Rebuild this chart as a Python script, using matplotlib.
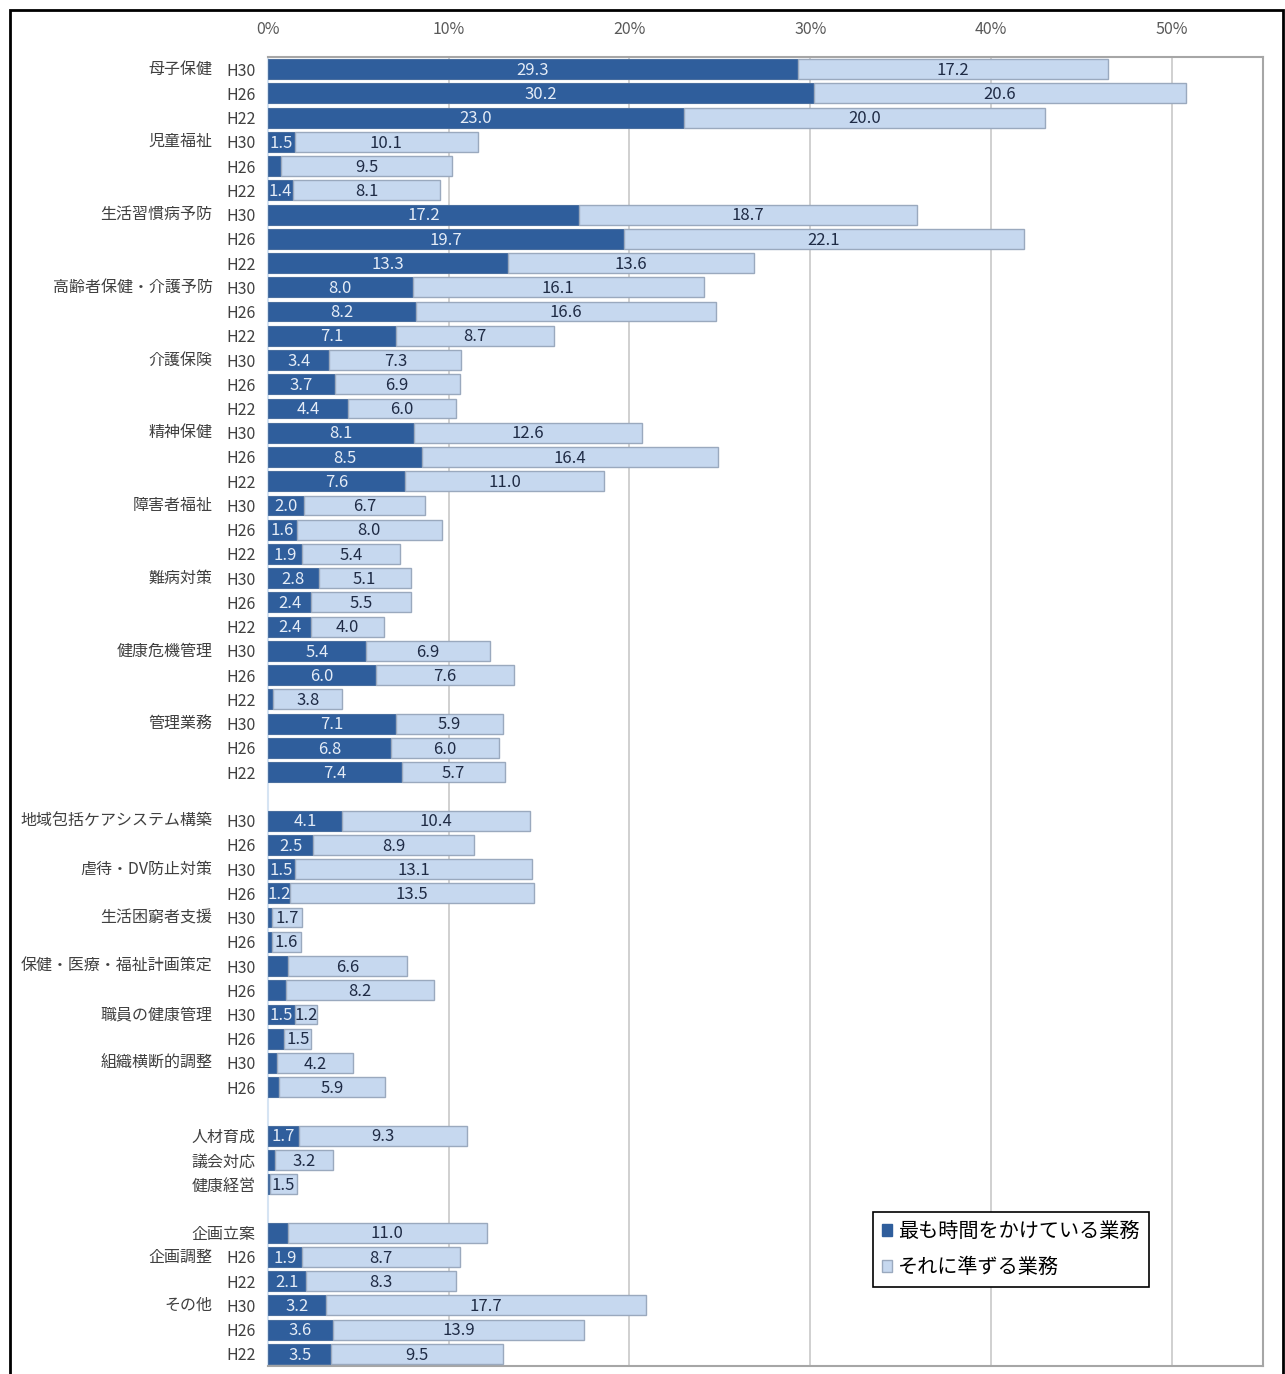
import numpy as np
import matplotlib
matplotlib.use('Agg')
import matplotlib.pyplot as plt
from matplotlib.patches import Rectangle

plt.rcParams['font.family'] = ['Noto Sans CJK JP', 'DejaVu Sans']

# ---------- データ ----------
# 行ごとのラベル（年度 / 年度なしの項目名）、空文字は空白行
tick_labels = [
    'H30', 'H26', 'H22',
    'H30', 'H26', 'H22',
    'H30', 'H26', 'H22',
    'H30', 'H26', 'H22',
    'H30', 'H26', 'H22',
    'H30', 'H26', 'H22',
    'H30', 'H26', 'H22',
    'H30', 'H26', 'H22',
    'H30', 'H26', 'H22',
    'H30', 'H26', 'H22',
    '',
    'H30', 'H26',
    'H30', 'H26',
    'H30', 'H26',
    'H30', 'H26',
    'H30', 'H26',
    'H30', 'H26',
    '',
    '人材育成', '議会対応', '健康経営',
    '',
    '企画立案', 'H26', 'H22',
    'H30', 'H26', 'H22',
]

cat_labels = [
    '母子保健', '', '',
    '児童福祉', '', '',
    '生活習慣病予防', '', '',
    '高齢者保健・介護予防', '', '',
    '介護保険', '', '',
    '精神保健', '', '',
    '障害者福祉', '', '',
    '難病対策', '', '',
    '健康危機管理', '', '',
    '管理業務', '', '',
    '',
    '地域包括ケアシステム構築', '',
    '虐待・DV防止対策', '',
    '生活困窮者支援', '',
    '保健・医療・福祉計画策定', '',
    '職員の健康管理', '',
    '組織横断的調整', '',
    '',
    '', '', '',
    '',
    '', '企画調整', '',
    'その他', '', '',
]

nan = np.nan
# 最も時間をかけている業務 (%)
most = [
    29.3, 30.2, 23.0,
    1.5, 0.7, 1.4,
    17.2, 19.7, 13.3,
    8.0, 8.2, 7.1,
    3.4, 3.7, 4.4,
    8.1, 8.5, 7.6,
    2.0, 1.6, 1.9,
    2.8, 2.4, 2.4,
    5.4, 6.0, 0.3,
    7.1, 6.8, 7.4,
    nan,
    4.1, 2.5,
    1.5, 1.2,
    0.2, 0.2,
    1.1, 1.0,
    1.5, 0.9,
    0.5, 0.6,
    nan,
    1.7, 0.4, 0.1,
    nan,
    1.1, 1.9, 2.1,
    3.2, 3.6, 3.5,
]

# それに準ずる業務 (%)
second = [
    17.2, 20.6, 20.0,
    10.1, 9.5, 8.1,
    18.7, 22.1, 13.6,
    16.1, 16.6, 8.7,
    7.3, 6.9, 6.0,
    12.6, 16.4, 11.0,
    6.7, 8.0, 5.4,
    5.1, 5.5, 4.0,
    6.9, 7.6, 3.8,
    5.9, 6.0, 5.7,
    nan,
    10.4, 8.9,
    13.1, 13.5,
    1.7, 1.6,
    6.6, 8.2,
    1.2, 1.5,
    4.2, 5.9,
    nan,
    9.3, 3.2, 1.5,
    nan,
    11.0, 8.7, 8.3,
    17.7, 13.9, 9.5,
]

legend_labels = ['最も時間をかけている業務', 'それに準ずる業務']
x_ticks = [0, 10, 20, 30, 40, 50]

# ---------- 描画 ----------
col_dark = '#2f5e9c'
col_light = '#c6d8ef'
col_edge = '#9aa9be'

W, H = 1285, 1374
fig = plt.figure(figsize=(W / 100, H / 100), dpi=100)
ax = fig.add_axes([268 / W, 1 - 1366 / H, (1263 - 268) / W, (1366 - 57) / H])

n = len(tick_labels)
y = np.arange(n)
most_a = np.array(most)
second_a = np.array(second)

ax.barh(y, most_a, height=0.82, color=col_dark, edgecolor='#4a6f9f', linewidth=0.8, zorder=3)
ax.barh(y, second_a, left=most_a, height=0.82, color=col_light, edgecolor=col_edge,
        linewidth=1.0, zorder=3)

for i in range(n):
    if np.isnan(most_a[i]):
        continue
    if most_a[i] >= 1.2:
        ax.text(most_a[i] / 2, y[i] + 0.05, f'{most_a[i]:.1f}', ha='center', va='center',
                fontsize=12, color='#e4ecf7', zorder=4)
    ax.text(most_a[i] + second_a[i] / 2, y[i] + 0.05, f'{second_a[i]:.1f}', ha='center',
            va='center', fontsize=12, color='#1f2b45', zorder=4)

ax.set_ylim(n - 0.5, -0.5)
ax.set_xlim(0, 55.05)

ax.xaxis.tick_top()
ax.set_xticks(x_ticks)
ax.set_xticklabels([f'{v}%' for v in x_ticks], fontsize=11.5, color='#595959')
ax.tick_params(axis='x', length=0, pad=14)
ax.grid(axis='x', color='#c8c8c8', linewidth=1.2, zorder=0)

ax.set_yticks(y)
ax.set_yticklabels(tick_labels, fontsize=11.5, color='#404040')
ax.tick_params(axis='y', length=0, pad=9)

for i, name in enumerate(cat_labels):
    if name:
        ax.annotate(name, xy=(0, y[i]), xycoords=('axes fraction', 'data'),
                    xytext=(-40, 0), textcoords='offset points', ha='right', va='center',
                    fontsize=11.5, color='#404040', annotation_clip=False)

for s in ['top', 'right', 'bottom']:
    ax.spines[s].set_color('#a6a6a6')
    ax.spines[s].set_linewidth(1.5)
ax.spines['left'].set_color('#d6e4f3')
ax.spines['left'].set_linewidth(1.5)

handles = [Rectangle((0, 0), 1, 1, facecolor=col_dark, edgecolor=col_dark),
           Rectangle((0, 0), 1, 1, facecolor=col_light, edgecolor=col_edge)]
leg = fig.legend(handles, legend_labels, loc='upper left', bbox_to_anchor=(873 / W, 1 - 1212 / H),
                 fontsize=14.5, frameon=True, fancybox=False, framealpha=1, edgecolor='black',
                 handlelength=0.5, handleheight=0.5, handletextpad=0.3, borderpad=0.45,
                 labelspacing=0.75, borderaxespad=0)
leg.get_frame().set_linewidth(1.2)

# 外枠
fig.patches.append(Rectangle((10 / W, -0.01), (1283 - 10) / W, 1.01 - 10 / H,
                             transform=fig.transFigure, fill=False, edgecolor='black',
                             linewidth=2))

fig.savefig('out.png', dpi=100)
